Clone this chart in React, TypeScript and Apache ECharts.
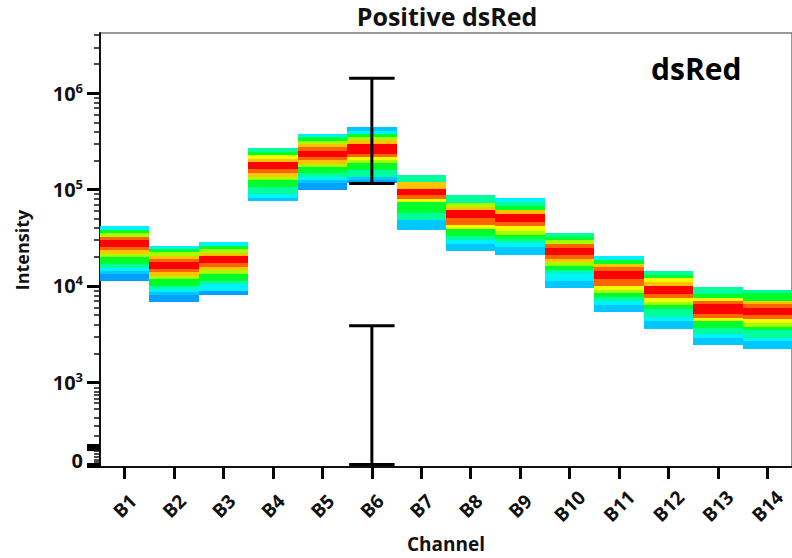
import React, { useEffect, useRef } from "react";
import * as echarts from "echarts";

// ---------- data ----------
const CHANNELS = ["B1", "B2", "B3", "B4", "B5", "B6", "B7", "B8", "B9", "B10", "B11", "B12", "B13", "B14"];

// intensity range covered by each channel's density column
const COLUMN_MIN = [11200, 6800, 8130, 75700, 99500, 116700, 38000, 23100, 20900, 9530, 5380, 3610, 2470, 2240];
const COLUMN_MAX = [41500, 26200, 28300, 269000, 376000, 443000, 143000, 86900, 82200, 35400, 20300, 14400, 9660, 9160];

// density level of each equal (log) bin, bottom -> top (0 = low density, 9 = peak)
const DENSITY_LEVELS = [
  [0, 0, 1, 2, 3, 4, 4, 5, 7, 8, 9, 9, 8, 5, 4, 2],
  [0, 0, 1, 2, 3, 4, 4, 5, 7, 8, 9, 9, 8, 7, 5, 4, 2],
  [0, 2, 2, 3, 4, 4, 5, 7, 8, 9, 9, 7, 5, 4, 2],
  [1, 2, 3, 3, 4, 4, 5, 7, 8, 9, 9, 7, 6, 4, 3],
  [0, 0, 1, 2, 3, 4, 4, 5, 7, 8, 9, 9, 8, 7, 5, 4, 2],
  [0, 1, 3, 3, 4, 4, 5, 6, 8, 9, 9, 9, 7, 5, 4, 2, 1],
  [1, 1, 1, 3, 3, 4, 4, 4, 6, 8, 9, 9, 7, 7, 3, 3],
  [1, 1, 2, 3, 4, 4, 6, 8, 8, 9, 9, 7, 5, 3, 3],
  [1, 1, 2, 3, 4, 5, 6, 8, 9, 9, 7, 4, 3, 2],
  [1, 1, 2, 2, 3, 4, 5, 7, 8, 9, 9, 8, 5, 4, 3],
  [1, 1, 2, 3, 4, 5, 6, 8, 8, 9, 9, 8, 7, 4, 2],
  [1, 1, 2, 3, 3, 4, 5, 6, 8, 9, 9, 7, 6, 4, 3],
  [1, 1, 2, 3, 3, 4, 4, 6, 8, 9, 9, 9, 8, 6, 4, 3, 3],
  [1, 1, 2, 3, 3, 4, 5, 6, 8, 9, 9, 8, 7, 4, 4, 3],
];

// error bars drawn on channel B6
const ERROR_CHANNEL = ["B6", "B6"];
const ERROR_LOW = [116000, -50];
const ERROR_HIGH = [1430000, 3860];

// y tick labels (intensity)
const Y_LABEL_VALUES = [0, 1e3, 1e4, 1e5, 1e6];
const Y_MINOR_VALUES = [
  2e3, 3e3, 4e3, 5e3, 6e3, 7e3, 8e3, 9e3,
  2e4, 3e4, 4e4, 5e4, 6e4, 7e4, 8e4, 9e4,
  2e5, 3e5, 4e5, 5e5, 6e5, 7e5, 8e5, 9e5,
  2e6, 3e6, 4e6,
];

const PALETTE = ["#00A0FF", "#00C8FF", "#00F2FF", "#00FF9C", "#00FF2A", "#A6FF00", "#F2FF00", "#FFC400", "#FF6400", "#FF0000"];

// ---------- scale (biexponential-like: linear below 1000, log above) ----------
const LIN_ZERO = 2.188;
const toAxis = (v: number) => (v >= 1000 ? Math.log10(v) : LIN_ZERO + ((3 - LIN_ZERO) * v) / 1000);
const Y_MIN = 2.122;
const Y_MAX = 6.625;

// decorative tick positions in the compressed region below 10^3 (axis units)
const LOW_MINOR_TICKS = [2.948, 2.907, 2.868, 2.834, 2.793, 2.724, 2.637, 2.55, 2.447, 2.288, 2.257, 2.226, 2.195, 2.174];
const LOW_MAJOR_TICKS = [2.35, 2.33, 2.309, 2.153, 2.132];

const FONT = "'Open Sans', 'DejaVu Sans', sans-serif";

export default function App() {
  const ref = useRef<HTMLDivElement>(null);

  useEffect(() => {
    if (!ref.current) return;
    const chart = echarts.init(ref.current, null, { renderer: "svg" });

    const columnData: number[][] = [];
    DENSITY_LEVELS.forEach((levels, i) => {
      const lo = Math.log10(COLUMN_MIN[i]);
      const hi = Math.log10(COLUMN_MAX[i]);
      const n = levels.length;
      levels.forEach((lvl, j) => {
        columnData.push([i, lo + ((hi - lo) * j) / n, lo + ((hi - lo) * (j + 1)) / n, lvl]);
      });
    });

    const errorData = ERROR_CHANNEL.map((c, k) => [CHANNELS.indexOf(c), toAxis(ERROR_LOW[k]), toAxis(ERROR_HIGH[k])]);

    const labelAxisValues = Y_LABEL_VALUES.map(toAxis);

    const option: any = {
      animation: false,
      backgroundColor: "#ffffff",
      textStyle: { fontFamily: FONT },
      grid: {
        left: 100,
        top: 33,
        width: 695,
        height: 435,
        show: true,
        borderColor: "#333",
        borderWidth: 1,
        backgroundColor: "transparent",
      },
      graphic: [
        {
          type: "text",
          x: 447,
          y: 16,
          style: {
            text: "Positive dsRed",
            fontFamily: FONT,
            fontWeight: "bold",
            fontSize: 25,
            fill: "#111",
            textAlign: "center",
            textVerticalAlign: "middle",
          },
        },
        {
          type: "text",
          x: 651,
          y: 68,
          z: 100,
          style: {
            text: "dsRed",
            fontFamily: FONT,
            fontWeight: "bold",
            fontSize: 30,
            fill: "#000",
            textAlign: "left",
            textVerticalAlign: "middle",
          },
        },
      ],
      xAxis: {
        type: "category",
        data: CHANNELS,
        name: "Channel",
        nameLocation: "middle",
        nameGap: 67,
        nameTextStyle: { fontFamily: FONT, fontWeight: "bold", fontSize: 19, color: "#111" },
        axisLine: { show: true, lineStyle: { color: "#111", width: 2 } },
        axisTick: { show: true, alignWithLabel: true, length: 12, interval: 0, lineStyle: { color: "#000", width: 3 } },
        axisLabel: {
          interval: 0,
          rotate: 45,
          align: "center",
          verticalAlign: "middle",
          margin: 39,
          fontFamily: FONT,
          fontWeight: "bold",
          fontSize: 19,
          color: "#111",
        },
        splitLine: { show: false },
      },
      yAxis: [
        {
          type: "value",
          min: Y_MIN,
          max: Y_MAX,
          name: "Intensity",
          nameLocation: "middle",
          nameGap: 69,
          nameTextStyle: { fontFamily: FONT, fontWeight: "bold", fontSize: 18, color: "#111" },
          axisLine: { show: true, lineStyle: { color: "#111", width: 2 } },
          axisTick: {
            show: true,
            length: 13,
            customValues: [3, 4, 5, 6, ...LOW_MAJOR_TICKS],
            lineStyle: { color: "#000", width: 3 },
          },
          axisLabel: {
            customValues: labelAxisValues,
            margin: 17,
            formatter: (v: number) => {
              if (Math.abs(v - toAxis(0)) < 1e-6) return "{n|0}";
              return "{n|10}{s|" + Math.round(v) + "}";
            },
            rich: {
              n: { fontFamily: FONT, fontWeight: "bold", fontSize: 20, color: "#111", lineHeight: 24 },
              s: { fontFamily: FONT, fontWeight: "bold", fontSize: 13, color: "#111", lineHeight: 15, verticalAlign: "top" },
            },
          },
          splitLine: { show: false },
        },
        {
          type: "value",
          min: Y_MIN,
          max: Y_MAX,
          position: "left",
          axisLine: { show: false },
          axisLabel: { show: false },
          axisTick: {
            show: true,
            length: 6,
            customValues: [...Y_MINOR_VALUES.map(toAxis), ...LOW_MINOR_TICKS],
            lineStyle: { color: "#111", width: 1.5 },
          },
          splitLine: { show: false },
        },
      ],
      series: [
        {
          type: "custom",
          name: "density",
          xAxisIndex: 0,
          yAxisIndex: 0,
          data: columnData,
          encode: { x: 0, y: [1, 2] },
          renderItem: (params: any, api: any) => {
            const cat = api.value(0);
            const top = api.coord([cat, api.value(2)]);
            const bot = api.coord([cat, api.value(1)]);
            const w = api.size([1, 0])[0];
            const x0 = Math.round(top[0] - w / 2);
            const x1 = Math.round(top[0] + w / 2);
            const y0 = Math.round(top[1]);
            const y1 = Math.round(bot[1]);
            return {
              type: "rect",
              shape: { x: x0, y: y0, width: x1 - x0, height: y1 - y0 },
              style: { fill: PALETTE[api.value(3)] },
            };
          },
          z: 2,
        },
        {
          type: "custom",
          name: "error",
          data: errorData,
          encode: { x: 0, y: [1, 2] },
          renderItem: (params: any, api: any) => {
            const cat = api.value(0);
            const lo = api.coord([cat, api.value(1)]);
            const hi = api.coord([cat, api.value(2)]);
            const hw = api.size([1, 0])[0] * 0.46;
            const st = { stroke: "#000", lineWidth: 3 };
            return {
              type: "group",
              children: [
                { type: "line", shape: { x1: lo[0], y1: lo[1], x2: hi[0], y2: hi[1] }, style: st },
                { type: "line", shape: { x1: hi[0] - hw, y1: hi[1], x2: hi[0] + hw, y2: hi[1] }, style: st },
                { type: "line", shape: { x1: lo[0] - hw, y1: lo[1], x2: lo[0] + hw, y2: lo[1] }, style: st },
              ],
            };
          },
          z: 5,
        },
      ],
    };

    chart.setOption(option);
    return () => chart.dispose();
  }, []);

  return <div ref={ref} style={{ position: "fixed", left: 0, top: 0, width: 792, height: 558 }} />;
}
